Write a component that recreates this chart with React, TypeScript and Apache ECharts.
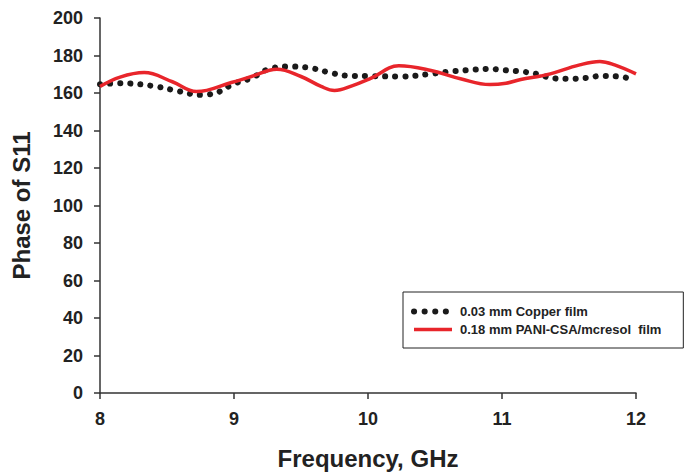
import React, { useEffect, useRef } from "react";
import * as echarts from "echarts";

const xTicks = [8, 9, 10, 11, 12];
const yMin = 0;
const yMax = 200;
const yStep = 20;

const copperName = "0.03 mm Copper film";
const copperFreq = [8.0, 8.16, 8.39, 8.54, 8.76, 8.91, 8.98, 9.13, 9.28, 9.43, 9.58, 9.73, 9.87, 10.02, 10.25, 10.47, 10.62, 10.77, 10.91, 10.99, 11.14, 11.29, 11.36, 11.51, 11.66, 11.73, 11.88, 11.95];
const copperPhase = [164.7, 165.2, 163.8, 161.7, 159.0, 161.2, 164.4, 168.0, 173.2, 174.1, 173.2, 170.6, 169.1, 169.0, 168.8, 170.2, 171.5, 172.3, 172.9, 172.3, 171.5, 169.7, 168.0, 167.6, 168.3, 169.1, 168.8, 167.6];

const paniName = "0.18 mm PANI-CSA/mcresol  film";
const paniFreq = [8.0, 8.15, 8.33, 8.54, 8.72, 8.98, 9.13, 9.32, 9.5, 9.65, 9.75, 9.88, 10.02, 10.23, 10.47, 10.69, 10.91, 11.03, 11.14, 11.29, 11.36, 11.58, 11.73, 11.84, 12.0];
const paniPhase = [163.5, 168.5, 170.9, 166.0, 160.8, 165.6, 168.8, 172.7, 168.8, 163.5, 161.3, 163.8, 167.8, 174.5, 172.0, 167.6, 164.5, 165.2, 167.2, 169.1, 170.2, 175.0, 176.8, 175.0, 170.2];

const FONT = "'Liberation Sans', Arial, sans-serif";
const INK = "#222222";
const DOT = "#1a1a1a";
const RED = "#e8252b";

export default function App() {
  const ref = useRef<HTMLDivElement>(null);
  useEffect(() => {
    if (!ref.current) return;
    const chart = echarts.init(ref.current, undefined, { renderer: "svg" });
    chart.setOption({
      animation: false,
      backgroundColor: "#ffffff",
      textStyle: { fontFamily: FONT },
      grid: { left: 100, right: 64, top: 18, bottom: 81, containLabel: false },
      legend: {
        orient: "vertical",
        left: 403,
        top: 292,
        padding: [13, 22, 12, 8],
        itemWidth: 38,
        itemHeight: 14,
        itemGap: 5,
        borderColor: INK,
        borderWidth: 1,
        borderRadius: 0,
        backgroundColor: "#ffffff",
        itemStyle: { opacity: 0 },
        textStyle: { fontFamily: FONT, fontSize: 13, fontWeight: "bold", color: INK, padding: [0, 0, 0, 3] },
        data: [
          { name: copperName, lineStyle: { color: DOT, width: 6, type: [0.1, 10.5], cap: "round" } },
          { name: paniName, lineStyle: { color: RED, width: 3.5 } },
        ],
      },
      xAxis: {
        type: "value",
        min: xTicks[0],
        max: xTicks[xTicks.length - 1],
        interval: 1,
        name: "Frequency, GHz",
        nameLocation: "middle",
        nameGap: 53,
        nameTextStyle: { fontFamily: FONT, fontSize: 24, fontWeight: "bold", color: INK },
        axisLine: { show: true, lineStyle: { color: "#333", width: 1.5 } },
        axisTick: { show: true, inside: false, length: 6, lineStyle: { color: "#333", width: 1.5 } },
        axisLabel: { fontFamily: FONT, fontSize: 18, fontWeight: "bold", color: INK, margin: 17 },
        splitLine: { show: false },
      },
      yAxis: {
        type: "value",
        min: yMin,
        max: yMax,
        interval: yStep,
        name: "Phase of S11",
        nameLocation: "middle",
        nameGap: 67,
        nameTextStyle: { fontFamily: FONT, fontSize: 24, fontWeight: "bold", color: INK },
        axisLine: { show: true, lineStyle: { color: "#333", width: 1.5 } },
        axisTick: { show: true, inside: false, length: 6, lineStyle: { color: "#333", width: 1.5 } },
        axisLabel: { fontFamily: FONT, fontSize: 18, fontWeight: "bold", color: INK, margin: 17 },
        splitLine: { show: false },
      },
      series: [
        {
          name: copperName,
          type: "line",
          smooth: 0.4,
          symbol: "none",
          data: copperFreq.map((f, i) => [f, copperPhase[i]]),
          lineStyle: { color: DOT, width: 6, type: [0.1, 10], cap: "round" },
          itemStyle: { color: DOT },
          z: 2,
        },
        {
          name: paniName,
          type: "line",
          smooth: 0.4,
          symbol: "none",
          data: paniFreq.map((f, i) => [f, paniPhase[i]]),
          lineStyle: { color: RED, width: 3.5 },
          itemStyle: { color: RED },
          z: 3,
        },
      ],
    });
    return () => chart.dispose();
  }, []);
  return <div ref={ref} style={{ width: 700, height: 475, position: "absolute", left: 0, top: 0 }} />;
}
